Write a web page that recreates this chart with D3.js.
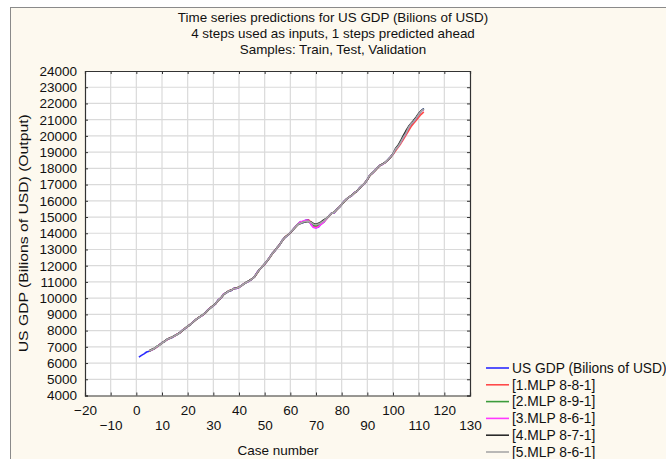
<!DOCTYPE html>
<html>
<head>
<meta charset="utf-8">
<script src="https://cdn.jsdelivr.net/npm/d3@7"></script>
<style>
  body { margin: 0; background: #ffffff; }
  svg { display: block; font-family: "Liberation Sans", Arial, sans-serif; }
</style>
</head>
<body>
<svg id="chart" width="666" height="459"></svg>
<script>
// Chart text
const titleLines = [
  "Time series predictions for US GDP (Bilions of USD)",
  "4 steps used as inputs, 1 steps predicted ahead",
  "Samples: Train, Test, Validation"
];
const xAxisTitle = "Case number";
const yAxisTitle = "US GDP (Bilions of USD) (Output)";

// Axis ticks
const xTicks = [-20, -10, 0, 10, 20, 30, 40, 50, 60, 70, 80, 90, 100, 110, 120, 130];
const yTicks = [4000, 5000, 6000, 7000, 8000, 9000, 10000, 11000, 12000, 13000, 14000,
                15000, 16000, 17000, 18000, 19000, 20000, 21000, 22000, 23000, 24000];

// Observed US GDP, cases 1..112
const actualGDP = [
  6363, 6471, 6567, 6681, 6730, 6809, 6882, 7014, 7116, 7247, 7331, 7455,
  7522, 7581, 7683, 7773, 7869, 8033, 8131, 8260, 8363, 8519, 8663, 8766,
  8867, 8970, 9121, 9294, 9417, 9524, 9682, 9899, 10002, 10248, 10318, 10436,
  10470, 10599, 10598, 10661, 10784, 10888, 10984, 11061, 11174, 11313, 11567, 11772,
  11923, 12113, 12305, 12527, 12767, 12923, 13143, 13324, 13599, 13753, 13870, 14040,
  14216, 14402, 14564, 14715, 14651, 14805, 14835, 14560, 14381, 14342, 14384, 14566,
  14681, 14888, 15057, 15231, 15238, 15461, 15588, 15785, 15974, 16121, 16228, 16330,
  16503, 16591, 16793, 16941, 17078, 17319, 17596, 17705, 17876, 18059, 18186, 18255,
  18364, 18527, 18698, 18884, 19190, 19356, 19612, 19919, 20164, 20510, 20749, 20897,
  21099, 21340, 21542, 21690
];

// Network predictions, cases 5..112
const predictionStartCase = 5;
const mlp1 = [
  6745, 6800, 6895, 6990, 7130, 7230, 7350, 7440, 7545, 7600, 7670, 7790,
  7860, 8010, 8150, 8245, 8380, 8505, 8640, 8780, 8880, 8960, 9100, 9270,
  9430, 9540, 9665, 9870, 10020, 10210, 10340, 10450, 10500, 10580, 10630, 10680,
  10770, 10900, 10990, 11080, 11190, 11300, 11520, 11760, 11940, 12100, 12290, 12510,
  12740, 12940, 13120, 13340, 13560, 13770, 13900, 14020, 14200, 14380, 14550, 14700,
  14700, 14760, 14820, 14700, 14480, 14420, 14450, 14560, 14700, 14870, 15040, 15210,
  15280, 15430, 15600, 15770, 15950, 16110, 16240, 16350, 16480, 16600, 16770, 16930,
  17090, 17290, 17560, 17700, 17860, 18030, 18180, 18270, 18360, 18500, 18670, 18850,
  19080, 19300, 19520, 19780, 20030, 20300, 20560, 20760, 20950, 21150, 21330, 21480
];
const mlp2 = [
  6720, 6830, 6870, 7030, 7100, 7260, 7320, 7470, 7510, 7595, 7695, 7760,
  7880, 8020, 8140, 8270, 8350, 8530, 8670, 8755, 8875, 8985, 9130, 9280,
  9405, 9535, 9690, 9880, 10010, 10230, 10330, 10420, 10485, 10590, 10610, 10670,
  10790, 10880, 10995, 11070, 11165, 11320, 11550, 11780, 11915, 12120, 12310, 12520,
  12760, 12930, 13150, 13315, 13590, 13760, 13880, 14050, 14210, 14390, 14560, 14650,
  14700, 14720, 14760, 14620, 14500, 14470, 14520, 14620, 14720, 14880, 15050, 15220,
  15260, 15450, 15590, 15780, 15965, 16115, 16235, 16340, 16495, 16600, 16785, 16935,
  17080, 17310, 17585, 17710, 17870, 18050, 18190, 18260, 18370, 18520, 18690, 18880,
  19170, 19360, 19600, 19900, 20150, 20480, 20720, 20880, 21080, 21320, 21520, 21660
];
const mlp3 = [
  6740, 6815, 6890, 7000, 7125, 7240, 7340, 7450, 7530, 7590, 7680, 7780,
  7875, 8040, 8125, 8255, 8370, 8525, 8655, 8770, 8860, 8975, 9125, 9300,
  9420, 9520, 9690, 9905, 10010, 10255, 10325, 10430, 10480, 10605, 10600, 10655,
  10780, 10895, 10980, 11055, 11180, 11310, 11575, 11765, 11930, 12105, 12300, 12535,
  12760, 12930, 13135, 13330, 13590, 13760, 13865, 14050, 14210, 14410, 14570, 14700,
  14760, 14800, 14790, 14560, 14350, 14330, 14400, 14560, 14690, 14880, 15065, 15225,
  15245, 15455, 15595, 15780, 15980, 16115, 16235, 16325, 16510, 16585, 16800, 16935,
  17085, 17310, 17600, 17700, 17880, 18050, 18195, 18250, 18370, 18520, 18705, 18875,
  19180, 19350, 19600, 19900, 20150, 20490, 20730, 20890, 21090, 21330, 21530, 21620
];
const mlp4 = [
  6760, 6840, 6910, 7010, 7120, 7225, 7345, 7460, 7540, 7610, 7690, 7785,
  7880, 8010, 8140, 8265, 8375, 8510, 8650, 8775, 8880, 8990, 9110, 9280,
  9425, 9545, 9680, 9880, 10025, 10220, 10335, 10445, 10495, 10590, 10620, 10675,
  10775, 10890, 10990, 11075, 11180, 11305, 11540, 11770, 11935, 12110, 12295, 12515,
  12750, 12935, 13130, 13335, 13575, 13765, 13890, 14030, 14200, 14390, 14540, 14600,
  14680, 14700, 14720, 14690, 14600, 14560, 14620, 14700, 14820, 14920, 15060, 15220,
  15290, 15440, 15600, 15775, 15960, 16120, 16245, 16345, 16490, 16605, 16780, 16940,
  17095, 17300, 17570, 17720, 17870, 18040, 18190, 18275, 18375, 18510, 18690, 18900,
  19220, 19420, 19700, 20020, 20300, 20560, 20760, 20950, 21150, 21380, 21560, 21660
];
const mlp5 = [
  6750, 6825, 6900, 7020, 7110, 7235, 7335, 7465, 7525, 7600, 7685, 7775,
  7870, 8025, 8135, 8260, 8365, 8515, 8660, 8770, 8870, 8980, 9115, 9285,
  9415, 9530, 9685, 9890, 10015, 10235, 10325, 10440, 10490, 10595, 10615, 10665,
  10780, 10885, 10985, 11065, 11175, 11310, 11545, 11775, 11925, 12115, 12300, 12520,
  12755, 12925, 13140, 13325, 13585, 13755, 13875, 14045, 14205, 14395, 14550, 14620,
  14690, 14730, 14740, 14660, 14560, 14520, 14570, 14650, 14760, 14900, 15055, 15225,
  15270, 15450, 15595, 15780, 15970, 16115, 16235, 16335, 16500, 16595, 16790, 16940,
  17085, 17315, 17590, 17705, 17875, 18055, 18185, 18260, 18365, 18525, 18700, 18885,
  19185, 19355, 19610, 19910, 20160, 20500, 20740, 20890, 21095, 21335, 21535, 21650
];

const seriesNames = ["US GDP (Bilions of USD)", "[1.MLP 8-8-1]", "[2.MLP 8-9-1]",
                     "[3.MLP 8-6-1]", "[4.MLP 8-7-1]", "[5.MLP 8-6-1]"];
const seriesColors = ["#2b2bff", "#ff4a4a", "#3c9c3c", "#ff38ff", "#2a2a2a", "#a8a8a8"];

// Build series as [case, value] points
const series = [
  { name: seriesNames[0], color: seriesColors[0], points: actualGDP.map((v, i) => [i + 1, v]) },
  ...[mlp1, mlp2, mlp3, mlp4, mlp5].map((arr, k) => ({
    name: seriesNames[k + 1], color: seriesColors[k + 1],
    points: arr.map((v, i) => [i + predictionStartCase, v])
  }))
];

const svg = d3.select("#chart");
const W = 666, H = 459;
const plot = { left: 85, right: 470, top: 71, bottom: 395.5 };

const x = d3.scaleLinear().domain([-20, 130]).range([plot.left, plot.right]);
const y = d3.scaleLinear().domain([4000, 24000]).range([plot.bottom, plot.top]);

// Page background and outer frame
svg.append("rect").attr("width", W).attr("height", H).attr("fill", "#ffffff");
svg.append("rect")
  .attr("x", 10.5).attr("y", 7.5).attr("width", W + 20).attr("height", H + 20)
  .attr("fill", "#fdf9ef").attr("stroke", "#8a8a8a").attr("stroke-width", 1);

// Title (three centred lines)
svg.append("g").selectAll("text").data(titleLines).join("text")
  .attr("x", 333).attr("y", (d, i) => 22 + i * 15.8)
  .attr("text-anchor", "middle")
  .attr("font-size", 13.4).attr("fill", "#111")
  .text(d => d);

// Plot area
svg.append("rect")
  .attr("x", plot.left).attr("y", plot.top)
  .attr("width", plot.right - plot.left).attr("height", plot.bottom - plot.top)
  .attr("fill", "#ffffff");

// Gridlines
const grid = svg.append("g").attr("stroke", "#dadada").attr("stroke-width", 1.2);
grid.selectAll("line.v").data(xTicks.slice(1, -1)).join("line").attr("class", "v")
  .attr("x1", d => x(d)).attr("x2", d => x(d))
  .attr("y1", plot.top).attr("y2", plot.bottom);
grid.selectAll("line.h").data(yTicks.slice(1, -1)).join("line").attr("class", "h")
  .attr("y1", d => y(d)).attr("y2", d => y(d))
  .attr("x1", plot.left).attr("x2", plot.right);

// Series lines
const line = d3.line().x(d => x(d[0])).y(d => y(d[1]));
svg.append("g").attr("fill", "none").attr("stroke-width", 1.6).attr("stroke-linejoin", "round")
  .selectAll("path").data(series).join("path")
  .attr("stroke", d => d.color)
  .attr("d", d => line(d.points));

// Axes with inward ticks
const tickLen = 3;
const xBottom = svg.append("g").attr("transform", `translate(0,${plot.bottom})`)
  .call(d3.axisBottom(x).tickValues(xTicks).tickSize(-tickLen).tickPadding(10).tickFormat(d3.format("d")));
xBottom.selectAll("text")
  .attr("dy", (d) => (d % 20 === 0 ? "0.71em" : "1.82em"));
svg.append("g").attr("transform", `translate(0,${plot.top})`)
  .call(d3.axisTop(x).tickValues(xTicks).tickSize(-tickLen).tickFormat(""));
svg.append("g").attr("transform", `translate(${plot.left},0)`)
  .call(d3.axisLeft(y).tickValues(yTicks).tickSize(-tickLen).tickPadding(8).tickFormat(d3.format("d")));
svg.append("g").attr("transform", `translate(${plot.right},0)`)
  .call(d3.axisRight(y).tickValues(yTicks).tickSize(-tickLen).tickFormat(""));

svg.selectAll(".domain").attr("stroke", "#333").attr("stroke-width", 1.2);
svg.selectAll(".tick line").attr("stroke", "#333");
svg.selectAll(".tick text")
  .attr("font-family", "'Liberation Sans', Arial, sans-serif")
  .attr("font-size", 13.5).attr("fill", "#111");

// Axis titles
svg.append("text")
  .attr("x", 278).attr("y", 455)
  .attr("text-anchor", "middle").attr("font-size", 13.5).attr("fill", "#111")
  .text(xAxisTitle);
svg.append("text")
  .attr("transform", `translate(28,${(plot.top + plot.bottom) / 2}) rotate(-90)`)
  .attr("text-anchor", "middle").attr("font-size", 13).attr("fill", "#111")
  .attr("textLength", 238).attr("lengthAdjust", "spacingAndGlyphs")
  .text(yAxisTitle);

// Legend
const legend = svg.append("g").attr("transform", "translate(486,368)");
const rows = legend.selectAll("g").data(series).join("g")
  .attr("transform", (d, i) => `translate(0,${i * 16.8})`);
rows.append("line")
  .attr("x1", 0).attr("x2", 23).attr("y1", 0).attr("y2", 0)
  .attr("stroke", d => d.color).attr("stroke-width", 1.6);
rows.append("text")
  .attr("x", 26).attr("y", 0).attr("dy", "0.35em")
  .attr("font-size", 13.8).attr("fill", "#111")
  .text(d => d.name);
</script>
</body>
</html>
